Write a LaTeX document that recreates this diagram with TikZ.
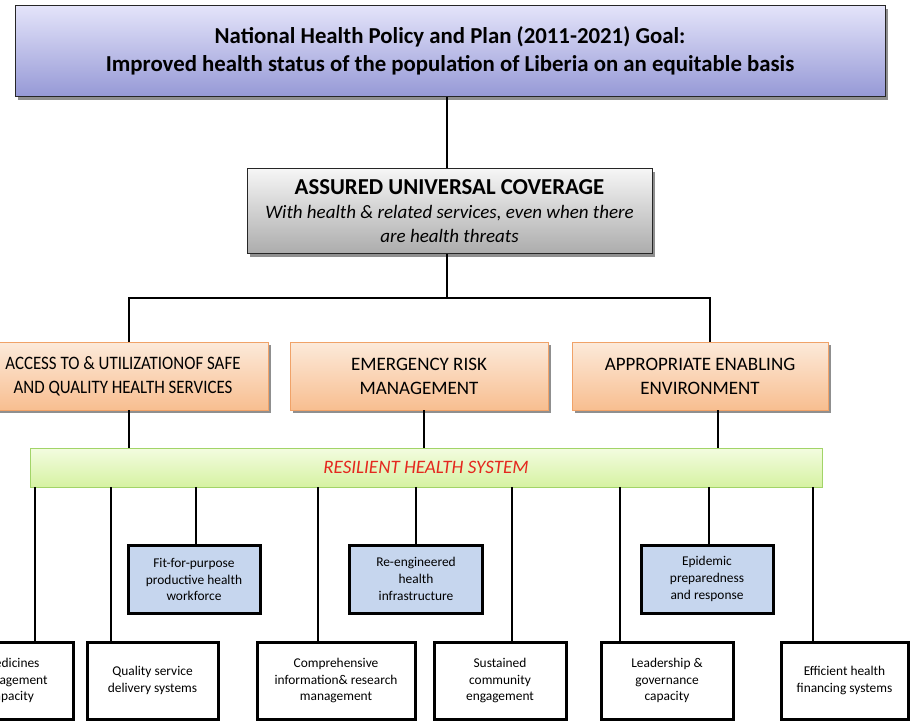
\documentclass[tikz,border=0pt]{standalone}
\usepackage{fontspec}
\setmainfont{Carlito}
\newfontfamily\narrowfont{Carlito}[FakeStretch=0.89]
\usetikzlibrary{shadows}
\definecolor{goaltop}{RGB}{228,228,250}
\definecolor{goalbot}{RGB}{150,153,214}
\definecolor{uhctop}{RGB}{246,246,246}
\definecolor{uhcbot}{RGB}{172,172,172}
\definecolor{pillartop}{RGB}{252,234,218}
\definecolor{pillarbot}{RGB}{248,190,144}
\definecolor{pillaredge}{RGB}{240,162,104}
\definecolor{systop}{RGB}{243,252,224}
\definecolor{sysbot}{RGB}{214,242,162}
\definecolor{sysedge}{RGB}{162,212,104}
\definecolor{bluefill}{RGB}{198,214,238}
\definecolor{sysred}{RGB}{228,40,30}
\begin{document}
\begin{tikzpicture}[x=1pt, y=-1pt,
    shade/.style={drop shadow={shadow xshift=3pt, shadow yshift=-3pt, fill=black!55, opacity=0.8}},
    goalbox/.style={draw=black!85, shade, top color=goaltop, bottom color=goalbot,
        minimum width=870pt, minimum height=91pt, align=center,
        font=\bfseries\fontsize{22.8}{28}\selectfont},
    uhcbox/.style={draw=black!85, shade, top color=uhctop, bottom color=uhcbot,
        minimum width=405pt, minimum height=85pt, align=center,
        font=\fontsize{19}{24}\selectfont},
    pillar/.style={draw=pillaredge, shade, top color=pillartop, bottom color=pillarbot,
        minimum height=68pt, align=center, font=\fontsize{19}{24}\selectfont},
    sysbar/.style={draw=sysedge, top color=systop, bottom color=sysbot,
        minimum width=792pt, minimum height=39pt,
        font=\itshape\fontsize{19}{20}\selectfont, text=sysred},
    blockbox/.style={draw=black, line width=3pt, fill=bluefill, minimum height=68pt,
        align=center, font=\fontsize{13.4}{16.8}\selectfont},
    whitebox/.style={draw=black, line width=3pt, fill=white, minimum height=77pt,
        align=center, font=\fontsize{13.4}{16.8}\selectfont},
    link/.style={draw=black, line width=1.1pt}]
    \useasboundingbox (0,0) rectangle (910,720);

    \node[goalbox] (goal) at (450,51) {National Health Policy and Plan (2011-2021) Goal:\\Improved health status of the population of Liberia on an equitable basis};
    \node[uhcbox] (uhc) at (449.5,211) {{\bfseries\fontsize{22.8}{24}\selectfont ASSURED UNIVERSAL COVERAGE}\\\itshape With health \& related services, even when there\\\itshape are health threats};

    \node[pillar, minimum width=290pt, font=\narrowfont\fontsize{19}{24}\selectfont] (access) at (123,376) {ACCESS TO \& UTILIZATIONOF SAFE\\AND QUALITY HEALTH SERVICES};
    \node[pillar, minimum width=258pt] (erm) at (419,376) {EMERGENCY RISK\\MANAGEMENT};
    \node[pillar, minimum width=256pt] (enable) at (700,376) {APPROPRIATE ENABLING\\ENVIRONMENT};

    \node[sysbar] (rhs) at (426,467.5) {RESILIENT HEALTH SYSTEM};

    \node[blockbox, minimum width=132pt] (hrh) at (194,579.5) {Fit-for-purpose\\productive health\\workforce};
    \node[blockbox, minimum width=133pt] (infra) at (416,579) {Re-engineered\\health\\infrastructure};
    \node[blockbox, minimum width=132pt] (epi) at (707,579) {Epidemic\\preparedness\\and response};

    \node[whitebox, minimum width=123pt] (med) at (11.5,680.5) {Medicines\\management\\capacity};
    \node[whitebox, minimum width=131pt] (qual) at (152.5,680.5) {Quality service\\delivery systems};
    \node[whitebox, minimum width=158pt] (info) at (336,680.5) {Comprehensive\\information\& research\\management};
    \node[whitebox, minimum width=132pt] (comm) at (500,680.5) {Sustained\\community\\engagement};
    \node[whitebox, minimum width=132pt] (gov) at (667,680.5) {Leadership \&\\governance\\capacity};
    \node[whitebox, minimum width=127pt] (fin) at (844.5,680.5) {Efficient health\\financing systems};

    \coordinate (split) at (447,298);
    \draw[link] ([xshift=-3pt]goal.south) -- ([xshift=-3pt]goal.south |- uhc.north);
    \draw[link] (uhc.south -| split) -- (split);
    \draw[link] ([xshift=6pt]access.north) |- (split) -| ([xshift=10pt]enable.north);

    \draw[link] ([xshift=6pt]access.south) -- ([xshift=6pt]access.south |- rhs.north);
    \draw[link] ([xshift=5pt]erm.south) -- ([xshift=5pt]erm.south |- rhs.north);
    \draw[link] ([xshift=18pt]enable.south) -- ([xshift=18pt]enable.south |- rhs.north);

    \foreach \n/\dx in {med/23.5, qual/-41.5, hrh/2, info/-18, infra/0, comm/12, gov/-47, epi/2, fin/-31.5}
        \draw[link] ([xshift=\dx pt]\n.north) -- ([xshift=\dx pt]\n.north |- rhs.south);
\end{tikzpicture}
\end{document}
